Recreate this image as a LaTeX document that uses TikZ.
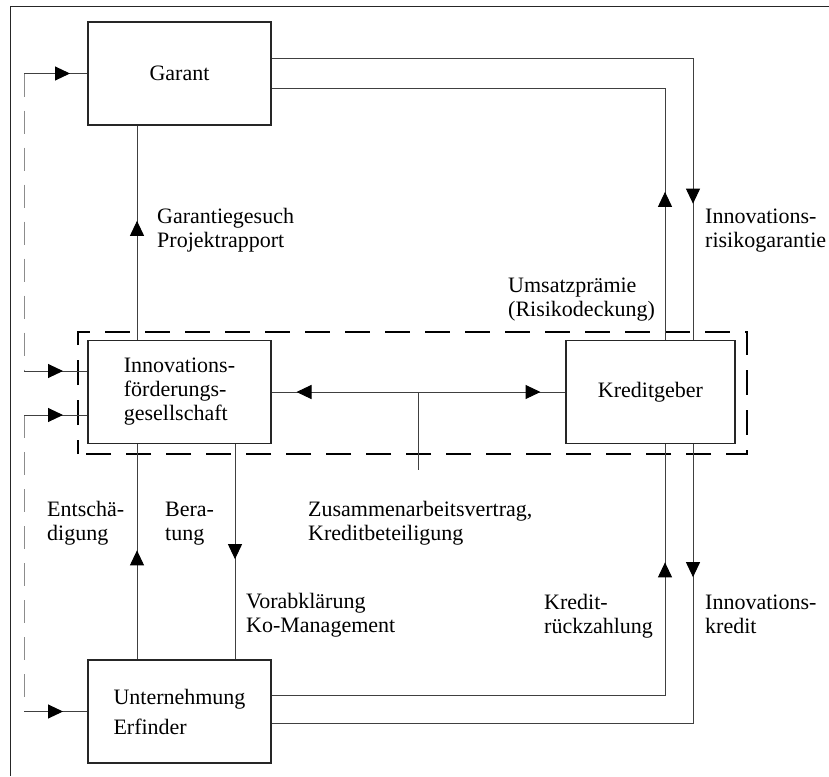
\documentclass[tikz,border=0pt]{standalone}
\usepackage{fontspec}
\setmainfont{Liberation Serif}
\usetikzlibrary{arrows.meta,decorations.markings,calc}

\begin{document}
\begin{tikzpicture}[x=1pt,y=-1pt,line join=miter,
    every node/.style={font=\fontsize{22}{24}\selectfont},
    box/.style={draw=black!85,line width=1.3pt,minimum width=183pt,
      minimum height=103pt,inner sep=0pt,align=left},
    flow/.style={draw=black!75,line width=1pt},
    flowtip/.style={flow,postaction={decorate},decoration={markings,
      mark=at position #1 with {\arrow[black]{Triangle[length=15pt,width=14pt]}}}},
    busline/.style={draw=black!45,line width=1pt,dash pattern=on 23pt off 14pt},
    dealbox/.style={line width=2.8pt,dash pattern=on 25pt off 15pt,dash phase=11pt},
    flowtext/.style={anchor=base west,inner sep=0pt,align=left}]
  \useasboundingbox (0,0) rectangle (829,776);
  \draw[line width=1pt,black!85] (10,776) -- (10,7) -- (829,7);

  % the partners
  \node[box] (G) at (179.5,73.5) {Garant};
  \node[box] (IFG) at (179.5,392) {Innovations-\\förderungs-\\gesellschaft};
  \node[box,minimum width=169pt] (K) at (650.5,392) {Kreditgeber};
  \node[box] (U) at (179.5,711.5) {Unternehmung\\[6pt]Erfinder};
  \draw[dealbox] (78,454) -- (78,332) -- (747,332) -- (747,454) -- cycle;

  % guarantee and premium
  \draw[flowtip=566pt] ([yshift=14.5pt]G.east) -| ([xshift=42.5pt]K.north);
  \draw[flowtip=148pt] ([xshift=14.5pt]K.north) |- ([yshift=-14.5pt]G.east);
  % credit and repayment
  \draw[flowtip=133pt] ([xshift=42.5pt]K.south) |- ([yshift=-11.5pt]U.east);
  \draw[flowtip=526pt] ([yshift=16.5pt]U.east) -| ([xshift=14.5pt]K.south);

  % vertical links on the left
  \draw[flowtip=119pt] ([xshift=-42.5pt]IFG.north) -- ([xshift=-42.5pt]G.south);
  \draw[flowtip=109pt] ([xshift=-42.5pt]U.north) -- ([xshift=-42.5pt]IFG.south);
  \draw[flowtip=115pt] ([xshift=55.5pt]IFG.south) -- ([xshift=55.5pt]U.north);

  % cooperation contract
  \coordinate (deal) at ($(IFG.east)!.5!(K.west)$);
  \draw[flowtip=122pt] (deal) -- (IFG.east);
  \draw[flowtip=122pt] (deal) -- (K.west);
  \draw[flow] (deal) -- ++(0,78);

  % dashed feedback on the left
  \coordinate (bus) at (24,0);
  \draw[busline] (G.west -| bus) -- ([yshift=21pt]IFG.west -| bus);
  \draw[busline] ([yshift=-23pt]IFG.west -| bus) -- (U.west -| bus);
  \draw[flowtip=46pt] (G.west -| bus) -- (G.west);
  \draw[flowtip=39pt] ([yshift=21pt]IFG.west -| bus) -- ([yshift=21pt]IFG.west);
  \draw[flowtip=39pt] ([yshift=-23pt]IFG.west -| bus) -- ([yshift=-23pt]IFG.west);
  \draw[flowtip=39pt] (U.west -| bus) -- (U.west);

  % labels (base = last line)
  \node[flowtext] (gesuch) at (157,247) {Garantiegesuch\\Projektrapport};
  \node[flowtext] (risiko) at (705,247) {Innovations-\\risikogarantie};
  \node[flowtext] (praemie) at (508,316) {Umsatzprämie\\(Risikodeckung)};
  \node[flowtext] (entsch) at (47,540) {Entschä-\\digung};
  \node[flowtext] (berat) at (165,540) {Bera-\\tung};
  \node[flowtext] (vertrag) at (308,540) {Zusammenarbeitsvertrag,\\Kreditbeteiligung};
  \node[flowtext] (vorab) at (246,632) {Vorabklärung\\Ko-Management};
  \node[flowtext] (rueck) at (544,633) {Kredit-\\rückzahlung};
  \node[flowtext] (ikredit) at (705,633) {Innovations-\\kredit};
\end{tikzpicture}
\end{document}
